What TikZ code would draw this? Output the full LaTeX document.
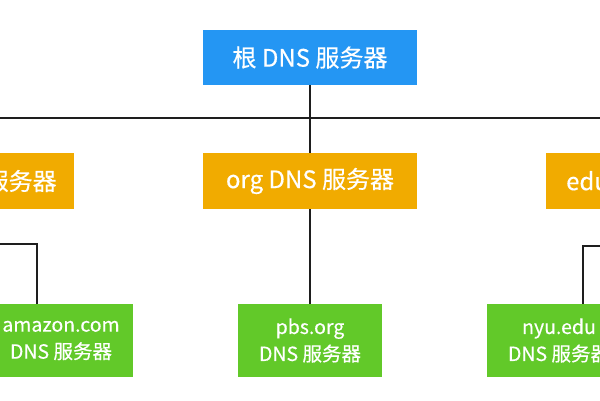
\documentclass[tikz,border=0pt]{standalone}
\usepackage{fontspec}
\setmainfont[FakeBold=0.4]{Noto Sans CJK SC}
\definecolor{rootblue}{RGB}{36,150,243}
\definecolor{tldorange}{RGB}{241,171,0}
\definecolor{authgreen}{RGB}{98,201,41}
\definecolor{wire}{RGB}{30,30,30}
\begin{document}
\begin{tikzpicture}[x=1pt,y=-1pt,
  box/.style={inner sep=0pt, outer sep=0pt, text=white, align=center},
  rootbox/.style={box, fill=rootblue, minimum width=214pt, minimum height=55pt, font=\fontsize{24}{28}\selectfont},
  tldbox/.style={box, fill=tldorange, minimum width=214pt, minimum height=56pt, font=\fontsize{24}{28}\selectfont},
  authbox/.style={box, fill=authgreen, minimum width=144pt, minimum height=73pt, font=\fontsize{19.5}{27}\selectfont},
  conn/.style={draw=wire, line width=1.5pt}]
\useasboundingbox (0,0) rectangle (600,400);
\clip (0,0) rectangle (600,400);

\node[rootbox] (root) at (310,57.5) {根 DNS 服务器};
\node[tldbox] (com) at (-33,181) {com DNS 服务器};
\node[tldbox] (org) at (310,181) {org DNS 服务器};
\node[tldbox] (edu) at (653,181) {edu DNS 服务器};
\node[authbox] (amazon) at (61,340.5) {amazon.com\\DNS 服务器};
\node[authbox] (pbs) at (310,340.5) {pbs.org\\DNS 服务器};
\node[authbox] (nyu) at (559,340.5) {nyu.edu\\DNS 服务器};

\coordinate (busL) at (-20,118);
\coordinate (busR) at (620,118);
\coordinate (amzTop) at ([xshift=-24pt]amazon.north);
\coordinate (nyuTop) at ([xshift=24pt]nyu.north);
\coordinate (amzBend) at (37,244);
\coordinate (nyuBend) at (583,246);

\draw[conn] (busL) -- (busR);
\draw[conn] (root.south) -- (org.north);
\draw[conn] (org.south) -- (pbs.north);
\draw[conn] (amzTop) -- (amzBend) -| (com.south);
\draw[conn] (nyuTop) -- (nyuBend) -| (edu.south);
\end{tikzpicture}
\end{document}
